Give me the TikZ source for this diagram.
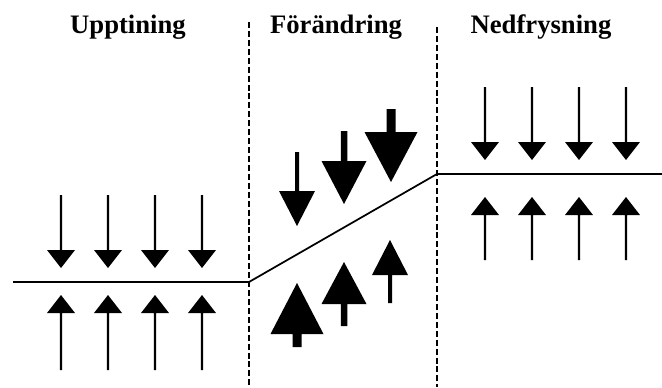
\documentclass[tikz,border=0pt]{standalone}
\usepackage{fontspec}
\setmainfont{Liberation Serif}
\newcommand\arr[6]{\fill (#1-#5/2,#2) -- (#1+#5/2,#2) -- (#1+#5/2,#3) -- (#1+#6/2,#3) -- (#1,#4) -- (#1-#6/2,#3) -- (#1-#5/2,#3) -- cycle;}
\tikzset{
  title/.style={anchor=base,font=\fontsize{20}{24}\selectfont\bfseries,inner sep=0pt},
  divider/.style={line width=2.2pt,dash pattern=on 4.5pt off 2.2pt},
  level/.style={line width=1.3pt}
}
\begin{document}
\begin{tikzpicture}[x=0.75pt,y=-0.75pt]
\useasboundingbox (0,0) rectangle (662,387);
% titles
\node[title] (t1) at (128,33) {Upptining};
\node[title] (t2) at (336,33) {Förändring};
\node[title] (t3) at (541,33) {Nedfrysning};
% dividers
\coordinate (d1t) at (249,22); \coordinate (d1b) at (249,387);
\coordinate (d2t) at (437,27); \coordinate (d2b) at (437,387);
\draw[divider] (d1t) -- (d1b);
\draw[divider] (d2t) -- (d2b);
% level line
\coordinate (l0) at (13,282);
\coordinate (l1) at (249,282);
\coordinate (l2) at (437,174);
\coordinate (l3) at (662,174);
\draw[level] (l0) -- (l1) -- (l2) -- (l3);
% left arrows
\foreach \x in {61,108,155,202}{
  \arr{\x}{195}{250}{268}{2.4}{28}
  \arr{\x}{370}{313}{295}{2.4}{28}
}
% right arrows
\foreach \x in {485,532,579,626}{
  \arr{\x}{87}{142}{160}{2.4}{28}
  \arr{\x}{260}{215}{197}{2.4}{28}
}
% middle arrows
\arr{297}{152}{191}{226}{4}{36}
\arr{344}{131}{161}{204}{6.5}{45}
\arr{391}{109}{132}{182}{9}{53}
\arr{297}{347}{334}{283}{9}{53}
\arr{344}{326}{304}{262}{6.5}{45}
\arr{390}{303}{275}{240}{4}{36}
\end{tikzpicture}
\end{document}
